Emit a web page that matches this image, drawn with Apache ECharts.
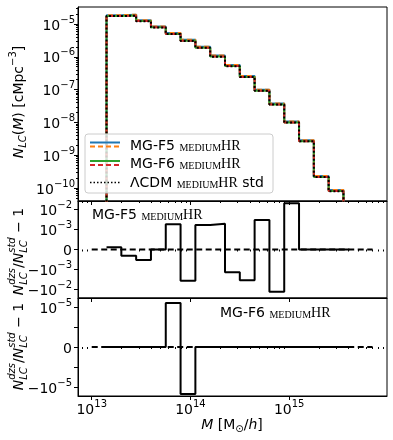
<!DOCTYPE html>
<html><head><meta charset="utf-8">
<script src="https://cdn.jsdelivr.net/npm/echarts@6/dist/echarts.min.js"></script>
<style>html,body{margin:0;padding:0;background:#fff}#c{width:393px;height:440px}</style>
</head><body><div id="c"></div>
<script>
// ---------------- DATA ----------------
// histogram bin edges, log10(M [Msun/h])
const binEdgesLogM = [13.15,13.30,13.45,13.60,13.75,13.90,14.05,14.20,14.35,14.50,14.65,14.80,14.95,15.10,15.25,15.40,15.55];
// N_LC(M) [cMpc^-3] per bin
const nF5Dzs   = [1.86e-5,1.93e-5,1.31e-5,8.45e-6,5.32e-6,3.28e-6,2.02e-6,1.09e-6,5.6e-7,2.62e-7,9.9e-8,3.78e-8,1.07e-8,2.87e-9,2.33e-10,8.7e-11];
const nF5Std   = [1.86e-5,1.93e-5,1.31e-5,8.45e-6,5.32e-6,3.28e-6,2.02e-6,1.09e-6,5.6e-7,2.62e-7,9.9e-8,3.78e-8,1.07e-8,2.87e-9,2.33e-10,8.7e-11];
const nF6Dzs   = [1.75e-5,1.81e-5,1.23e-5,7.9e-6,4.97e-6,3.07e-6,1.89e-6,1.02e-6,5.2e-7,2.44e-7,9.25e-8,3.52e-8,9.95e-9,2.67e-9,2.17e-10,8.05e-11];
const nF6Std   = [1.75e-5,1.81e-5,1.23e-5,7.9e-6,4.97e-6,3.07e-6,1.89e-6,1.02e-6,5.2e-7,2.44e-7,9.25e-8,3.52e-8,9.95e-9,2.67e-9,2.17e-10,8.05e-11];
const nLcdmStd = [1.74e-5,1.80e-5,1.22e-5,7.85e-6,4.95e-6,3.05e-6,1.88e-6,1.01e-6,5.19e-7,2.43e-7,9.2e-8,3.5e-8,9.9e-9,2.66e-9,2.16e-10,8.0e-11];
// residual step edges (log10 M) and residuals N_dzs/N_std - 1
const resEdgesLogM = [13.15,13.30,13.45,13.60,13.75,13.90,14.05,14.20,14.35,14.50,14.65,14.80,14.95,15.10,15.25,15.40,15.55,15.61];
const resF5 = [1.1e-4,-3.1e-4,-5.3e-4,0,1.82e-3,-3.6e-3,1.68e-3,1.95e-3,-1.38e-3,-3.47e-3,2.99e-3,-1.29e-2,2.04e-2,0,0,0,0];
const resF6 = [0,0,0,0,1.58e-5,-2.24e-5,0,0,0,0,0,0,0,0,0,0,0];
const zeroLineLogM = [13.0, 15.845];
// ticks
const xMajorExps = [13,14,15];
const xMinorMantissas = [2,3,4,5,6,7,8,9];
const yTopExps = [-10,-9,-8,-7,-6,-5];
const resF5TickVals = [-1e-2,-1e-3,0,1e-3,1e-2];
const resF5LabelVals = [-1e-2,-1e-3,0,1e-3,1e-2];
const resF6TickVals = [-1e-5,-1e-6,0,1e-6,1e-5];
const resF6LabelVals = [-1e-5,0,1e-5];
const LINTHRESH_F5 = 1e-3, LINTHRESH_F6 = 1e-6;

// ---------------- HELPERS ----------------
const X_MIN = 12.861, X_MAX = 15.991;
const GL = 78, GW = 309;
const symlog = (v, lt) => Math.abs(v) <= lt ? v/lt : Math.sign(v)*(1+Math.log10(Math.abs(v)/lt));
const r6 = v => Math.round(v*1e6)/1e6;
const xMinorTicks = [];
for (let n = 12; n <= 15; n++) xMinorMantissas.forEach(k => { const t = n+Math.log10(k); if (t > X_MIN && t < X_MAX) xMinorTicks.push(t); });
const yTopMinor = [];
for (let n = -11; n <= -5; n++) xMinorMantissas.forEach(k => { const t = n+Math.log10(k); if (t > -10.396 && t < -4.482) yTopMinor.push(t); });

function histData(vals) {
  const FLOOR = -12;
  const d = [[binEdgesLogM[0], FLOOR]];
  vals.forEach((v,i) => d.push([binEdgesLogM[i], Math.log10(v)]));
  d.push([binEdgesLogM[binEdgesLogM.length-1], FLOOR]);
  return d;
}
function resData(vals, lt) {
  const d = vals.map((v,i) => [resEdgesLogM[i], symlog(v, lt)]);
  d.push([resEdgesLogM[resEdgesLogM.length-1], symlog(vals[vals.length-1], lt)]);
  return d;
}
const RICH = {
  b:{fontFamily:'DejaVu Sans', fontSize:14, color:'#000', lineHeight:18, verticalAlign:'bottom'},
  s:{fontFamily:'DejaVu Sans', fontSize:10, color:'#000', lineHeight:10, verticalAlign:'top'}
};
function symLabel(v) {
  if (v === 0) return '{b|0}';
  const sign = v < 0 ? '\u2212' : '';
  const e = Math.round(Math.log10(Math.abs(v)));
  return '{b|' + sign + '10}{s|' + (e < 0 ? '\u2212' + (-e) : e) + '}';
}
function labelMap(vals, lt) { const m = {}; vals.forEach(v => m[r6(symlog(v, lt))] = symLabel(v)); return m; }
const f5Labels = labelMap(resF5LabelVals, LINTHRESH_F5);
const f6Labels = labelMap(resF6LabelVals, LINTHRESH_F6);

const BLK = {color:'#000', width:1};
function xMajor(g, labels) {
  return {type:'value', gridIndex:g, min:X_MIN, max:X_MAX, position:'bottom',
    axisLine:{show:true, onZero:false, lineStyle:BLK},
    axisTick:{show:true, inside:false, length:4, customValues:xMajorExps, lineStyle:BLK},
    axisLabel:{show:labels, customValues:xMajorExps, margin:3, formatter:v => '{b|10}{s|' + Math.round(v) + '}', rich:RICH},
    splitLine:{show:false}};
}
function xMinor(g) {
  return {type:'value', gridIndex:g, min:X_MIN, max:X_MAX, position:'bottom',
    axisLine:{show:false}, axisTick:{show:true, inside:false, length:2, customValues:xMinorTicks, lineStyle:BLK},
    axisLabel:{show:false}, splitLine:{show:false}};
}
function yAx(g, min, max, ticks, labels, fmt, margin) {
  return {type:'value', gridIndex:g, min:min, max:max, position:'left',
    axisLine:{show:true, onZero:false, lineStyle:BLK},
    axisTick:{show:true, inside:false, length:4, customValues:ticks, lineStyle:BLK},
    axisLabel:{show:true, customValues:labels, margin:margin, formatter:fmt, rich:RICH},
    splitLine:{show:false}};
}

// math-like label built from pieces (real text)
const mctx = document.createElement('canvas').getContext('2d');
function tw(t, f) { mctx.font = f; return mctx.measureText(t).width; }
function mathLabel(pieces, cx, cy, rot) {
  let total = 0;
  const widths = pieces.map(p => { const w = p.stack ? Math.max(...p.stack.map(q => tw(q.t, q.f))) : tw(p.t, p.f); total += w; return w; });
  let x = -total/2; const children = [];
  pieces.forEach((p,i) => {
    (p.stack || [p]).forEach(q => children.push({type:'text', x:x, y:q.dy||0,
      style:{text:q.t, font:q.f, fill:'#000', textAlign:'left', textVerticalAlign:'middle', align:'left', verticalAlign:'middle'}}));
    x += widths[i];
  });
  return {type:'group', x:cx, y:cy, rotation:rot, children:children, z:100};
}
const FI = 'italic 14px "DejaVu Sans"', FR = '14px "DejaVu Sans"', SI = 'italic 10px "DejaVu Sans"', SR = '10px "DejaVu Sans"';
const yTopLabel = mathLabel([
  {t:'N', f:FI}, {t:'LC', f:SI, dy:4}, {t:'(', f:FR}, {t:'M', f:FI}, {t:')', f:FR},
  {t:' [cMpc', f:FR}, {t:'\u22123', f:SR, dy:-6}, {t:']', f:FR}], 19.5, 102, Math.PI/2);
function resLabel(cy) {
  return mathLabel([
    {t:'N', f:FI}, {stack:[{t:'dzs', f:SI, dy:-7}, {t:'LC', f:SI, dy:5}]},
    {t:'/', f:FR}, {t:'N', f:FI}, {stack:[{t:'std', f:SI, dy:-7}, {t:'LC', f:SI, dy:5}]},
    {t:' \u2212 1', f:FR}], 19.5, cy, Math.PI/2);
}
const xLabel = mathLabel([
  {t:'M', f:FI}, {t:' [M', f:FR}, {t:'\u2299', f:SR, dy:4}, {t:'/', f:FR}, {t:'h', f:FI}, {t:']', f:FR}], 232, 425, 0);

const LRICH = {
  a:{fontFamily:'DejaVu Sans', fontSize:14, color:'#000', lineHeight:16, verticalAlign:'bottom'},
  m:{fontFamily:'Liberation Serif', fontSize:10, color:'#000', lineHeight:12.5, verticalAlign:'bottom'},
  h:{fontFamily:'Liberation Serif', fontSize:14, color:'#000', lineHeight:16.5, verticalAlign:'bottom'}
};
function lText(txt, x, y) {
  return {type:'text', x:x, y:y, z:101, style:{text:txt, rich:LRICH, textAlign:'left', textVerticalAlign:'middle', align:'left', verticalAlign:'middle'}};
}
function lLine(y, color, dash, w) {
  return {type:'line', z:101, shape:{x1:90, y1:y, x2:120, y2:y}, style:{stroke:color, lineWidth:w, lineDash:dash}};
}

// ---------------- CHART ----------------
const chart = echarts.init(document.getElementById('c'), null, {renderer:'canvas', width:393, height:440});
const C = {blue:'#1f77b4', orange:'#ff7f0e', green:'#2ca02c', red:'#d62728', black:'#000'};
function hist(name, vals, color, type) {
  return {name:name, type:'line', xAxisIndex:0, yAxisIndex:0, data:histData(vals), step:'end', symbol:'none', clip:true,
    lineStyle:{color:color, width:2, type:type}, silent:true};
}
chart.setOption({
  animation:false,
  backgroundColor:'#fff',
  grid:[
    {left:GL, top:7, width:GW, height:194, show:true, borderColor:'#000', borderWidth:1},
    {left:GL, top:201, width:GW, height:97, show:true, borderColor:'#000', borderWidth:1},
    {left:GL, top:298, width:GW, height:98, show:true, borderColor:'#000', borderWidth:1}
  ],
  xAxis:[xMajor(0,false), xMinor(0), xMajor(1,false), xMinor(1), xMajor(2,true), xMinor(2)],
  yAxis:[
    yAx(0, -10.396, -4.482, yTopExps, yTopExps, v => '{b|10}{s|\u2212' + Math.round(-v) + '}', 3),
    {type:'value', gridIndex:0, min:-10.396, max:-4.482, position:'left', axisLine:{show:false},
      axisTick:{show:true, inside:false, length:2, customValues:yTopMinor, lineStyle:BLK}, axisLabel:{show:false}, splitLine:{show:false}},
    yAx(1, -2.425, 2.425, resF5TickVals.map(v => symlog(v, LINTHRESH_F5)), resF5LabelVals.map(v => symlog(v, LINTHRESH_F5)), v => f5Labels[r6(v)] || '', 6),
    yAx(2, -2.45, 2.45, resF6TickVals.map(v => symlog(v, LINTHRESH_F6)), resF6LabelVals.map(v => symlog(v, LINTHRESH_F6)), v => f6Labels[r6(v)] || '', 6)
  ],
  series:[
    hist('MG-F5 dzs', nF5Dzs, C.blue, 'solid'),
    hist('MG-F5 std', nF5Std, C.orange, [5,3]),
    hist('MG-F6 dzs', nF6Dzs, C.green, 'solid'),
    hist('MG-F6 std', nF6Std, C.red, [5,3]),
    hist('LCDM std', nLcdmStd, C.black, [2,2]),
    {type:'line', xAxisIndex:2, yAxisIndex:2, data:zeroLineLogM.map(x => [x,0]), symbol:'none', lineStyle:{color:'#000', width:1.8, type:[6,3.5]}, silent:true},
    {type:'line', xAxisIndex:2, yAxisIndex:2, data:resData(resF5, LINTHRESH_F5), step:'end', symbol:'none', clip:true, lineStyle:{color:'#000', width:2}, silent:true},
    {type:'line', xAxisIndex:4, yAxisIndex:3, data:zeroLineLogM.map(x => [x,0]), symbol:'none', lineStyle:{color:'#000', width:1.8, type:[6,3.5]}, silent:true},
    {type:'line', xAxisIndex:4, yAxisIndex:3, data:resData(resF6, LINTHRESH_F6), step:'end', symbol:'none', clip:true, lineStyle:{color:'#000', width:2}, silent:true}
  ],
  graphic:{elements:[
    {type:'rect', z:100, shape:{x:85, y:134, width:188, height:59, r:3}, style:{fill:'rgba(255,255,255,0.8)', stroke:'#cccccc', lineWidth:1}},
    lLine(142.5, C.blue, null, 2), lLine(146.5, C.orange, [5,3], 2),
    lLine(161, C.green, null, 2), lLine(165, C.red, [5,3], 2),
    lLine(182.5, C.black, [1.5,2], 1.5),
    lText('{a|MG-F5 }{m|MEDIUM}{h|HR}', 130, 145),
    lText('{a|MG-F6 }{m|MEDIUM}{h|HR}', 130, 163.5),
    lText('{a|\u039BCDM }{m|MEDIUM}{h|HR}{a| std}', 130, 182),
    lText('{a|MG-F5 }{m|MEDIUM}{h|HR}', 92, 214),
    lText('{a|MG-F6 }{m|MEDIUM}{h|HR}', 220, 312.5),
    yTopLabel, resLabel(251.5), resLabel(346.5), xLabel
  ]}
});
</script></body></html>
